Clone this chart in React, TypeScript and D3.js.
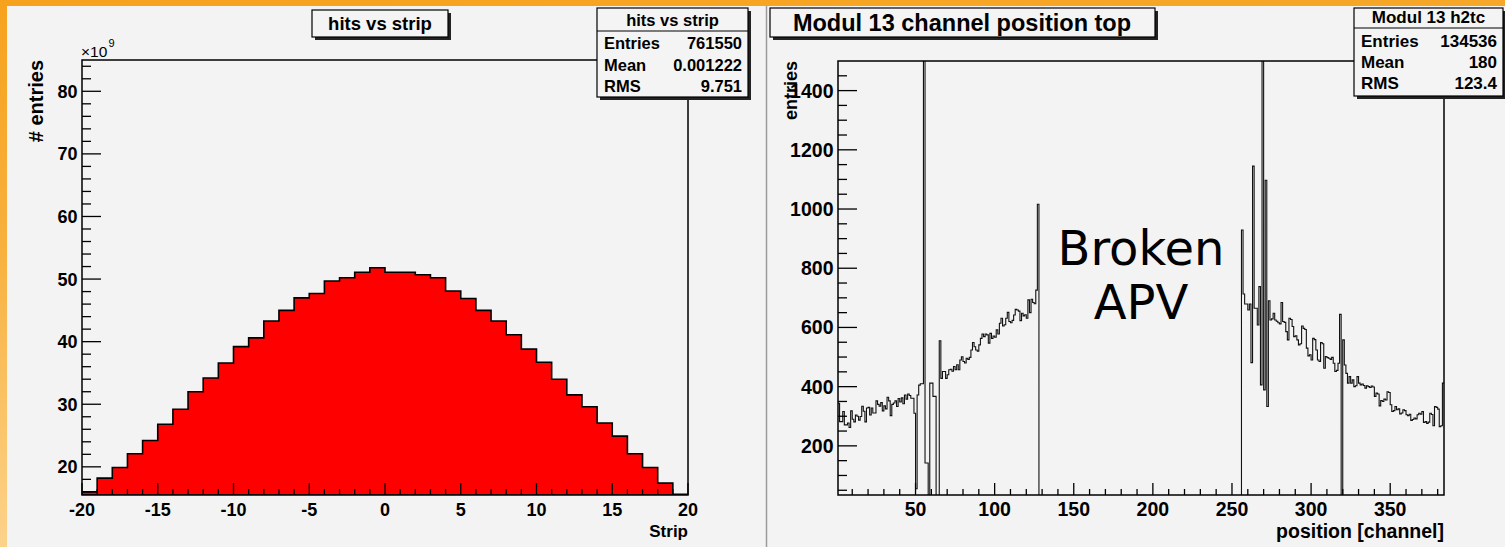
import { useEffect, useRef } from 'react';
import * as d3 from 'd3';

const FONT = "'Liberation Sans', Arial, Helvetica, sans-serif";

// ---- left pad: hits vs strip (entries in units of 1e9)
const stripBins = [
  -20, -19, -18, -17, -16, -15, -14, -13, -12, -11,
  -10, -9, -8, -7, -6, -5, -4, -3, -2, -1,
  0, 1, 2, 3, 4, 5, 6, 7, 8, 9,
  10, 11, 12, 13, 14, 15, 16, 17, 18, 19,
];
const hitsPerStrip = [
  16.0, 18.2, 19.9, 22.1, 24.2, 26.8, 29.2, 32.0, 34.2, 36.6,
  39.2, 40.6, 43.3, 45.0, 47.0, 47.7, 49.7, 50.2, 51.1, 51.8,
  51.1, 51.1, 50.7, 50.2, 48.1, 46.9, 45.0, 43.3, 41.1, 38.8,
  36.7, 34.0, 31.5, 29.6, 27.0, 24.9, 22.1, 19.9, 17.4, 15.6,
];
const stripTicks = [-20, -15, -10, -5, 0, 5, 10, 15, 20];
const hitsTicks = [20, 30, 40, 50, 60, 70, 80];
const hitsStats = [['Entries', '761550'], ['Mean', '0.001222'], ['RMS', '9.751']];

// ---- right pad: Modul 13 channel position top, channels 1..383
// first APV (channels 1-127)
const apvA = [
  344, 282, 282, 316, 271, 271, 277, 262, 318, 290, 281, 304, 300, 287, 299, 334,
  317, 281, 328, 330, 304, 328, 311, 311, 352, 340, 334, 346, 318, 335, 325, 364,
  352, 302, 340, 345, 352, 333, 360, 348, 362, 342, 372, 358, 375, 370, 361, 361,
  310, 55, 372, 405, 410, 410, 1650, 142, 142, 0, 412, 412, 367, 367, 0, 0,
  555, 428, 451, 451, 428, 440, 457, 459, 452, 468, 457, 474, 457, 490, 501, 485,
  480, 496, 492, 499, 524, 549, 535, 524, 520, 541, 563, 578, 569, 578, 575, 547,
  580, 563, 571, 567, 592, 578, 614, 631, 605, 609, 631, 651, 620, 616, 624, 642,
  661, 659, 655, 623, 648, 639, 643, 631, 693, 650, 695, 684, 680, 726, 1016,
];
// broken APV (channels 128-255)
const apvB = [
  0, 0, 0, 0, 0, 0, 0, 0, 0, 0, 0, 0, 0, 0, 0, 0,
  0, 0, 0, 0, 0, 0, 0, 0, 0, 0, 0, 0, 0, 0, 0, 0,
  0, 0, 0, 0, 0, 0, 0, 0, 0, 0, 0, 0, 0, 0, 0, 0,
  0, 0, 0, 0, 0, 0, 0, 0, 0, 0, 0, 0, 0, 0, 0, 0,
  0, 0, 0, 0, 0, 0, 0, 0, 0, 0, 0, 0, 0, 0, 0, 0,
  0, 0, 0, 0, 0, 0, 0, 0, 0, 0, 0, 0, 0, 0, 0, 0,
  0, 0, 0, 0, 0, 0, 0, 0, 0, 0, 0, 0, 0, 0, 0, 0,
  0, 0, 0, 0, 0, 0, 0, 0, 0, 0, 0, 0, 0, 0, 0, 0,
];
// third APV (channels 256-383)
const apvC = [
  929, 713, 679, 679, 659, 679, 481, 1145, 665, 665, 608, 738, 406, 1650, 389, 1097,
  333, 690, 625, 629, 648, 625, 621, 616, 612, 684, 620, 617, 586, 558, 631, 627,
  603, 569, 572, 558, 541, 545, 605, 597, 593, 530, 504, 508, 490, 563, 559, 524,
  490, 485, 549, 545, 462, 502, 498, 496, 492, 499, 479, 451, 455, 479, 644, 0,
  558, 473, 445, 412, 434, 412, 423, 400, 403, 434, 412, 406, 409, 404, 395, 403,
  400, 397, 402, 399, 367, 378, 375, 335, 353, 350, 358, 355, 383, 380, 339, 316,
  319, 333, 322, 325, 308, 311, 322, 319, 305, 302, 307, 286, 289, 294, 291, 305,
  310, 307, 316, 279, 282, 276, 280, 310, 306, 268, 333, 330, 324, 265, 268, 412,
];
const channelTicks = [50, 100, 150, 200, 250, 300, 350];
const countTicks = [200, 400, 600, 800, 1000, 1200, 1400];
const channelStats = [['Entries', '134536'], ['Mean', '180'], ['RMS', '123.4']];

type Scale = d3.ScaleLinear<number, number>;

export default function App() {
  const svgRef = useRef<SVGSVGElement>(null);

  useEffect(() => {
    if (!svgRef.current) return;
    const svg = d3.select(svgRef.current);
    svg.selectAll('*').remove();

    const defs = svg.append('defs');
    const grad = defs.append('linearGradient')
      .attr('id', 'bg').attr('x1', 0).attr('y1', 0).attr('x2', 0.15).attr('y2', 1);
    grad.append('stop').attr('offset', 0).attr('stop-color', '#f6a21d');
    grad.append('stop').attr('offset', 0.45).attr('stop-color', '#f8b13e');
    grad.append('stop').attr('offset', 1).attr('stop-color', '#fcd48e');

    svg.append('rect').attr('width', 1505).attr('height', 547).attr('fill', 'url(#bg)');

    // pads
    svg.append('rect').attr('x', 7).attr('y', 6).attr('width', 759).attr('height', 541).attr('fill', '#f3f3f3');
    svg.append('rect').attr('x', 766).attr('y', 6).attr('width', 739).attr('height', 541).attr('fill', '#f3f3f3');
    svg.append('line').attr('x1', 766.5).attr('x2', 766.5).attr('y1', 6).attr('y2', 547)
      .attr('stroke', '#9a9a9a').attr('stroke-width', 1.5);

    // ---------- helpers ----------
    const drawAxes = (
      x: Scale, y: Scale,
      xMajor: number[], xMinor: number[], yMajor: number[], yMinor: number[],
      fontSize: number,
    ) => {
      const [x0, x1] = x.range();
      const [y1, y0] = y.range();
      const g = svg.append('g');
      g.append('rect')
        .attr('x', x0).attr('y', y0).attr('width', x1 - x0).attr('height', y1 - y0)
        .attr('fill', 'none').attr('stroke', '#000').attr('stroke-width', 1.5);

      g.selectAll('.ymaj').data(yMajor).enter().append('line')
        .attr('x1', x0).attr('x2', x0 + 19)
        .attr('y1', d => y(d)).attr('y2', d => y(d))
        .attr('stroke', '#000').attr('stroke-width', 1.3);
      g.selectAll('.ymin').data(yMinor).enter().append('line')
        .attr('x1', x0).attr('x2', x0 + 9)
        .attr('y1', d => y(d)).attr('y2', d => y(d))
        .attr('stroke', '#000').attr('stroke-width', 1.3);
      g.selectAll('.xmaj').data(xMajor).enter().append('line')
        .attr('x1', d => x(d)).attr('x2', d => x(d))
        .attr('y1', y1).attr('y2', y1 - 12)
        .attr('stroke', '#000').attr('stroke-width', 1.3);
      g.selectAll('.xmin').data(xMinor).enter().append('line')
        .attr('x1', d => x(d)).attr('x2', d => x(d))
        .attr('y1', y1).attr('y2', y1 - 6)
        .attr('stroke', '#000').attr('stroke-width', 1.3);

      g.selectAll('.ylab').data(yMajor).enter().append('text')
        .attr('x', x0 - 4.5).attr('y', d => y(d)).attr('dy', '0.36em')
        .attr('text-anchor', 'end')
        .attr('font-family', FONT).attr('font-weight', 'bold').attr('font-size', fontSize)
        .text(d => String(d));
      g.selectAll('.xlab').data(xMajor).enter().append('text')
        .attr('x', d => x(d)).attr('y', 516)
        .attr('text-anchor', 'middle')
        .attr('font-family', FONT).attr('font-weight', 'bold').attr('font-size', fontSize)
        .text(d => String(d));
      return g;
    };

    const drawPave = (x: number, y: number, w: number, h: number) => {
      svg.append('rect').attr('x', x + 3).attr('y', y + 3).attr('width', w).attr('height', h).attr('fill', '#222');
      svg.append('rect').attr('x', x).attr('y', y).attr('width', w).attr('height', h)
        .attr('fill', '#f4f4f4').attr('stroke', '#000').attr('stroke-width', 1.2);
    };

    const drawStats = (
      x: number, y: number, w: number, h: number, headerH: number,
      title: string, rows: string[][], fontSize: number, rowY: number[],
    ) => {
      drawPave(x, y, w, h);
      svg.append('line').attr('x1', x).attr('x2', x + w).attr('y1', y + headerH).attr('y2', y + headerH)
        .attr('stroke', '#000').attr('stroke-width', 1.2);
      svg.append('text').attr('x', x + w / 2).attr('y', y + headerH - 5)
        .attr('text-anchor', 'middle').attr('font-family', FONT).attr('font-weight', 'bold')
        .attr('font-size', fontSize).text(title);
      rows.forEach((r, i) => {
        svg.append('text').attr('x', x + 7).attr('y', rowY[i])
          .attr('font-family', FONT).attr('font-weight', 'bold').attr('font-size', fontSize).text(r[0]);
        svg.append('text').attr('x', x + w - 6).attr('y', rowY[i]).attr('text-anchor', 'end')
          .attr('font-family', FONT).attr('font-weight', 'bold').attr('font-size', fontSize).text(r[1]);
      });
    };

    // ---------- left pad ----------
    const xL = d3.scaleLinear().domain([-20, 20]).range([82, 688]);
    const yL = d3.scaleLinear().domain([15.5, 85]).range([495, 60]);

    defs.append('clipPath').attr('id', 'clipL').append('rect')
      .attr('x', 82).attr('y', 60).attr('width', 606).attr('height', 435);

    const stripPts: [number, number][] = stripBins.map((b, i) => [b, hitsPerStrip[i]]);
    stripPts.push([20, hitsPerStrip[hitsPerStrip.length - 1]]);
    const stripArea = d3.area<[number, number]>()
      .x(d => xL(d[0])).y0(495).y1(d => yL(d[1]))
      .curve(d3.curveStepAfter);
    svg.append('path').datum(stripPts)
      .attr('clip-path', 'url(#clipL)')
      .attr('d', stripArea)
      .attr('fill', '#ff0000').attr('stroke', '#000').attr('stroke-width', 1.6);

    drawAxes(
      xL, yL, stripTicks, d3.range(-20, 21, 1).filter(v => v % 5 !== 0),
      hitsTicks, d3.range(16, 85, 2).filter(v => v % 10 !== 0), 18,
    );

    svg.append('text').attr('transform', 'translate(43,60) rotate(-90)')
      .attr('text-anchor', 'end').attr('font-family', FONT).attr('font-weight', 'bold')
      .attr('font-size', 20).text('# entries');
    svg.append('text').attr('x', 81).attr('y', 57)
      .attr('font-family', FONT).attr('font-size', 15.5).text('\u00d710');
    svg.append('text').attr('x', 108.5).attr('y', 47)
      .attr('font-family', FONT).attr('font-size', 11).text('9');
    svg.append('text').attr('x', 688).attr('y', 537).attr('text-anchor', 'end')
      .attr('font-family', FONT).attr('font-weight', 'bold').attr('font-size', 17).text('Strip');

    drawPave(312, 10, 136, 27);
    svg.append('text').attr('x', 380).attr('y', 30).attr('text-anchor', 'middle')
      .attr('font-family', FONT).attr('font-weight', 'bold').attr('font-size', 18.5).text('hits vs strip');

    drawStats(597, 8, 151, 89, 23, 'hits vs strip', hitsStats, 16.5, [49, 71, 92]);

    // ---------- right pad ----------
    const xR = d3.scaleLinear().domain([1, 384]).range([838, 1444]);
    const yR = d3.scaleLinear().domain([34, 1500]).range([495, 61]);

    defs.append('clipPath').attr('id', 'clipR').append('rect')
      .attr('x', 838).attr('y', 61).attr('width', 606).attr('height', 434);

    const channels = [...apvA, ...apvB, ...apvC];
    const chPts: [number, number][] = channels.map((v, i) => [i + 1, v]);
    chPts.push([384, channels[channels.length - 1]]);
    const chLine = d3.line<[number, number]>()
      .x(d => xR(d[0])).y(d => yR(d[1]))
      .curve(d3.curveStepAfter);
    svg.append('path').datum(chPts)
      .attr('clip-path', 'url(#clipR)')
      .attr('d', chLine)
      .attr('fill', 'none').attr('stroke', '#111').attr('stroke-width', 1.1);

    drawAxes(
      xR, yR, channelTicks, d3.range(10, 384, 10).filter(v => v % 50 !== 0),
      countTicks, d3.range(50, 1500, 50).filter(v => v % 200 !== 0), 19.5,
    );

    svg.append('text').attr('transform', 'translate(797,61) rotate(-90)')
      .attr('text-anchor', 'end').attr('font-family', FONT).attr('font-weight', 'bold')
      .attr('font-size', 18).text('entries');
    svg.append('text').attr('x', 1444).attr('y', 538).attr('text-anchor', 'end')
      .attr('font-family', FONT).attr('font-weight', 'bold').attr('font-size', 19.5).text('position [channel]');

    drawPave(770, 8, 385, 29);
    svg.append('text').attr('x', 962).attr('y', 31).attr('text-anchor', 'middle')
      .attr('font-family', FONT).attr('font-weight', 'bold').attr('font-size', 23.5)
      .text('Modul 13 channel position top');

    drawStats(1354, 8, 149, 88, 20, 'Modul 13 h2tc', channelStats, 17, [47, 68, 89]);

    // annotation
    const note = svg.append('text').attr('text-anchor', 'middle')
      .attr('font-family', "'DejaVu Sans', Verdana, sans-serif").attr('font-size', 48);
    note.append('tspan').attr('x', 1141).attr('y', 265).text('Broken');
    note.append('tspan').attr('x', 1141).attr('y', 319).text('APV');
  }, []);

  return (
    <svg
      ref={svgRef}
      width={1505}
      height={547}
      style={{ position: 'absolute', left: 0, top: 0, display: 'block' }}
    />
  );
}
